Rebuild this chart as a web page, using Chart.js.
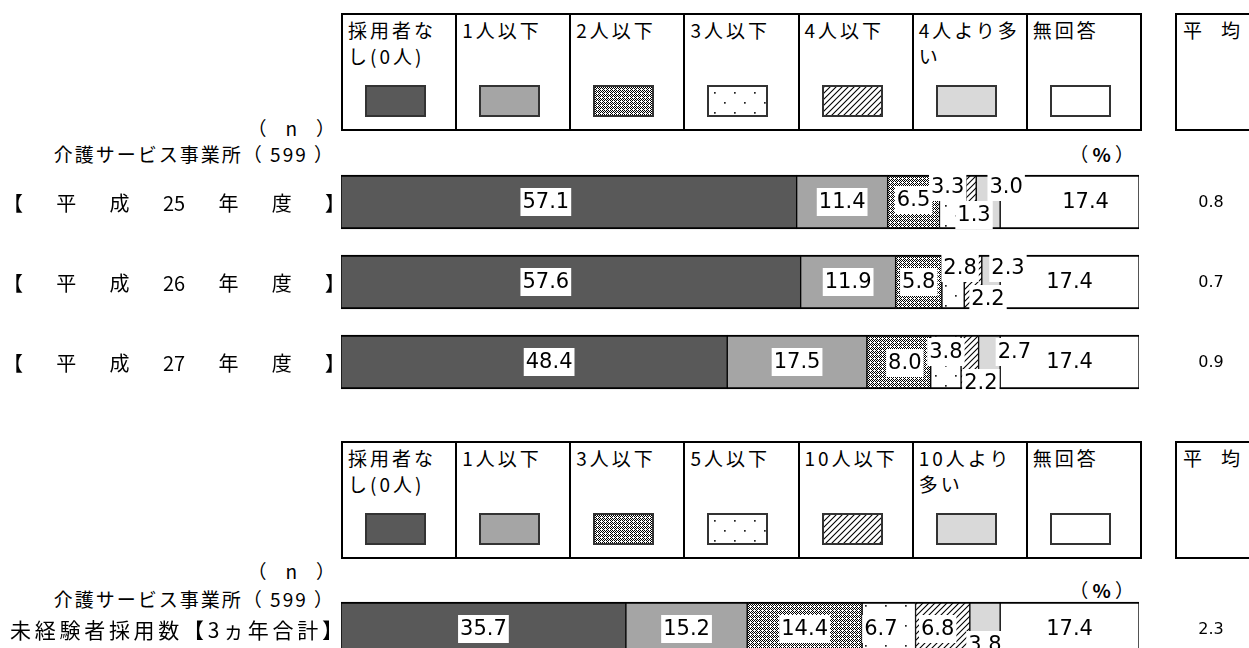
<!DOCTYPE html>
<html lang="ja">
<head>
<meta charset="utf-8">
<script src="https://cdn.jsdelivr.net/npm/chart.js@4.4.1/dist/chart.umd.min.js"></script>
<style>
  html, body { margin: 0; padding: 0; background: #fff; }
  body { width: 1249px; height: 648px; overflow: hidden; position: relative; font-family: "Noto Sans CJK JP", sans-serif; color: #000; }
  .legend { position: absolute; left: 341px; width: 801px; height: 118px; border: 2px solid #000; box-sizing: border-box; display: flex; }
  .legend .cell { flex: 1 1 0; position: relative; border-right: 2px solid #000; font-size: 19px; letter-spacing: 3px; line-height: 26px; padding: 2px 0 0 5px; white-space: nowrap; overflow: hidden; }
  .legend .cell:last-child { border-right: none; }
  .swatch { position: absolute; left: 22px; top: 70px; width: 61px; height: 32px; border: 2px solid #333; box-sizing: border-box; }
  .avgbox { position: absolute; left: 1175px; width: 100px; height: 118px; border: 2px solid #000; box-sizing: border-box; font-size: 19px; line-height: 26px; padding: 2px 0 0 6px; white-space: pre; }
  .note { position: absolute; font-size: 19px; line-height: 22px; white-space: pre; text-align: right; }
  .wide { letter-spacing: 2px; }
  canvas { position: absolute; left: 0; }
</style>
</head>
<body>
<div class="legend" id="legend1" style="top:13px"></div>
<div class="avgbox" style="top:13px">平　均</div>
<div class="note" style="top:117px; right:914px">（　n　）</div>
<div class="note wide" id="n1" style="top:143px; right:914px"></div>
<div class="note" style="top:143px; right:115px">（ <b>%</b> ）</div>

<div class="legend" id="legend2" style="top:441px"></div>
<div class="avgbox" style="top:441px">平　均</div>
<div class="note" style="top:560px; right:914px">（　n　）</div>
<div class="note wide" id="n2" style="top:588px; right:914px"></div>
<div class="note" style="top:579px; right:115px">（ <b>%</b> ）</div>

<canvas id="chart1" width="1249" height="410" style="top:0"></canvas>
<canvas id="chart2" width="1249" height="138" style="top:560px"></canvas>

<script>
// ---- data ----
const cats1 = ['採用者なし(0人)', '1人以下', '2人以下', '3人以下', '4人以下', '4人より多い', '無回答'];
const cats2 = ['採用者なし(0人)', '1人以下', '3人以下', '5人以下', '10人以下', '10人より多い', '無回答'];
const years = ['【平成25年度】', '【平成26年度】', '【平成27年度】'];
const totalLabel = ['未経験者採用数【3ヵ年合計】'];
const nCount = 599;

// section 1: one array per category, values for H25, H26, H27
const noneHired = [57.1, 57.6, 48.4];
const upTo1 = [11.4, 11.9, 17.5];
const upTo2 = [6.5, 5.8, 8.0];
const upTo3 = [3.3, 2.8, 3.8];
const upTo4 = [1.3, 2.2, 2.2];
const over4 = [3.0, 2.3, 2.7];
const noAnswer1 = [17.4, 17.4, 17.4];
const avg1 = [0.8, 0.7, 0.9];

// section 2: 3-year total, one value per category
const total3y = [35.7, 15.2, 14.4, 6.7, 6.8, 3.8, 17.4];
const avg2 = [2.3];

// legend text line breaks as in the original
const legendText1 = ['採用者な\nし(0人)', '1人以下', '2人以下', '3人以下', '4人以下', '4人より多\nい', '無回答'];
const legendText2 = ['採用者な\nし(0人)', '1人以下', '3人以下', '5人以下', '10人以下', '10人より\n多い', '無回答'];

// label nudges [dx, dy] (manual placement like the original)
const shift1 = [
  [[-23, 0], [0, 0], [0, -2], [-5, -15], [3, 13], [18, -15], [16, 0]],
  [[-25, 0], [0, 0], [0, 0], [7, -14], [15, 17], [17, -14], [0, 0]],
  [[15, 0], [0, 0], [6, 1], [0, -10], [11, 21], [25, -10], [0, 0]]
];
const shift2 = [[[0, 0], [0, 0], [0, 0], [-8, 0], [-5, 0], [0, 16], [0, 0]]];

// ---- patterns ----
function tileFromRows(rows) {
  const c = document.createElement('canvas');
  c.width = rows[0].length; c.height = rows.length;
  const x = c.getContext('2d');
  x.fillStyle = '#fff'; x.fillRect(0, 0, c.width, c.height);
  x.fillStyle = '#000';
  rows.forEach((r, j) => { for (let i = 0; i < r.length; i++) if (r[i] === '#') x.fillRect(i, j, 1, 1); });
  return c;
}
function dotTile() {
  const c = document.createElement('canvas');
  c.width = 20; c.height = 20;
  const x = c.getContext('2d');
  x.fillStyle = '#fff'; x.fillRect(0, 0, 20, 20);
  x.fillStyle = '#222';
  x.fillRect(5, 5, 1.7, 1.7);
  x.fillRect(15, 15, 1.7, 1.7);
  return c;
}
function hatchTile() {
  const s = 6;
  const c = document.createElement('canvas');
  c.width = s; c.height = s;
  const x = c.getContext('2d');
  x.fillStyle = '#fff'; x.fillRect(0, 0, s, s);
  x.strokeStyle = '#000'; x.lineWidth = 1.1;
  x.beginPath();
  x.moveTo(-1, s + 1); x.lineTo(s + 1, -1);
  x.moveTo(-1, 1); x.lineTo(1, -1);
  x.moveTo(s - 1, s + 1); x.lineTo(s + 1, s - 1);
  x.stroke();
  return c;
}
const tCross = tileFromRows(['#.#.', '.#.#', '#...', '.#.#']);
const tDots = dotTile();
const tHatch = hatchTile();
const pctx = document.getElementById('chart1').getContext('2d');
const fills = ['#595959', '#a5a5a5', pctx.createPattern(tCross, 'repeat'), pctx.createPattern(tDots, 'repeat'),
  pctx.createPattern(tHatch, 'repeat'), '#d9d9d9', '#ffffff'];
const swatchBg = ['#595959', '#a5a5a5', 'url(' + tCross.toDataURL() + ')', 'url(' + tDots.toDataURL() + ')',
  'url(' + tHatch.toDataURL() + ')', '#d9d9d9', '#ffffff'];

// ---- legend tables (html) ----
function buildLegend(id, texts) {
  const box = document.getElementById(id);
  texts.forEach((t, i) => {
    const cell = document.createElement('div');
    cell.className = 'cell';
    cell.innerText = t;
    const sw = document.createElement('div');
    sw.className = 'swatch';
    sw.style.background = swatchBg[i];
    cell.appendChild(sw);
    box.appendChild(cell);
  });
}
buildLegend('legend1', legendText1);
buildLegend('legend2', legendText2);
document.getElementById('n1').textContent = '介護サービス事業所（ ' + nCount + ' ）';
document.getElementById('n2').textContent = '介護サービス事業所（ ' + nCount + ' ）';

// ---- plugins ----
const sideText = {
  id: 'sideText',
  afterDraw(chart, args, opts) {
    const ctx = chart.ctx;
    const yScale = chart.scales.y;
    ctx.save();
    ctx.fillStyle = '#000';
    ctx.textBaseline = 'middle';
    chart.data.labels.forEach((lab, i) => {
      const y = yScale.getPixelForValue(i);
      // category label, spread out between left and right edge
      ctx.font = opts.labelFont;
      const toks = lab.match(/\d+|./g);
      const ws = toks.map(t => ctx.measureText(t).width);
      const sum = ws.reduce((a, b) => a + b, 0);
      const gap = (opts.labelRight - opts.labelLeft - sum) / (toks.length - 1);
      let x = opts.labelLeft;
      ctx.textAlign = 'left';
      toks.forEach((t, k) => { ctx.fillText(t, x, y + 1); x += ws[k] + gap; });
      // average value
      ctx.font = '16px "DejaVu Sans"';
      ctx.textAlign = 'center';
      ctx.fillText(opts.avg[i].toFixed(1), 1211, y + 1);
    });
    ctx.restore();
  }
};

const valueLabels = {
  id: 'valueLabels',
  afterDatasetsDraw(chart, args, opts) {
    const ctx = chart.ctx;
    ctx.save();
    ctx.font = '21px "DejaVu Sans"';
    ctx.textAlign = 'center';
    ctx.textBaseline = 'middle';
    chart.data.datasets.forEach((ds, di) => {
      const meta = chart.getDatasetMeta(di);
      meta.data.forEach((el, i) => {
        const c = el.getCenterPoint();
        const s = opts.shift[i][di];
        const txt = ds.data[i].toFixed(1);
        const w = ctx.measureText(txt).width;
        const cx = c.x + s[0], cy = c.y + s[1];
        ctx.fillStyle = '#fff';
        ctx.fillRect(cx - w / 2 - 2, cy - 14, w + 4, 28);
        ctx.fillStyle = '#000';
        ctx.fillText(txt, cx, cy + 1);
      });
    });
    ctx.restore();
  }
};

function makeChart(id, labels, series, avg, shift, pad, labelFont, labelLeft, labelRight) {
  const datasets = series.map((vals, i) => ({
    label: cats1[i],
    data: vals,
    backgroundColor: fills[i],
    borderColor: '#000',
    borderWidth: { top: 2, bottom: 2, left: 1, right: 1 },
    borderSkipped: false,
    barThickness: 54
  }));
  return new Chart(document.getElementById(id), {
    type: 'bar',
    data: { labels: labels, datasets: datasets },
    plugins: [valueLabels, sideText],
    options: {
      indexAxis: 'y',
      responsive: false,
      animation: false,
      layout: { padding: pad },
      scales: {
        x: { display: false, stacked: true, min: 0, max: 100 },
        y: { display: false, stacked: true }
      },
      plugins: {
        legend: { display: false },
        tooltip: { enabled: false },
        valueLabels: { shift: shift },
        sideText: { avg: avg, labelFont: labelFont, labelLeft: labelLeft, labelRight: labelRight }
      }
    }
  });
}

makeChart('chart1', years,
  [noneHired, upTo1, upTo2, upTo3, upTo4, over4, noAnswer1],
  avg1, shift1, { left: 341, right: 110, top: 162, bottom: 8 }, '20px "Noto Sans CJK JP"', 3, 345);

makeChart('chart2', totalLabel,
  total3y.map(v => [v]),
  avg2, shift2, { left: 341, right: 110, top: 29, bottom: 29 }, '21px "Noto Sans CJK JP"', 10, 343);
</script>
</body>
</html>
